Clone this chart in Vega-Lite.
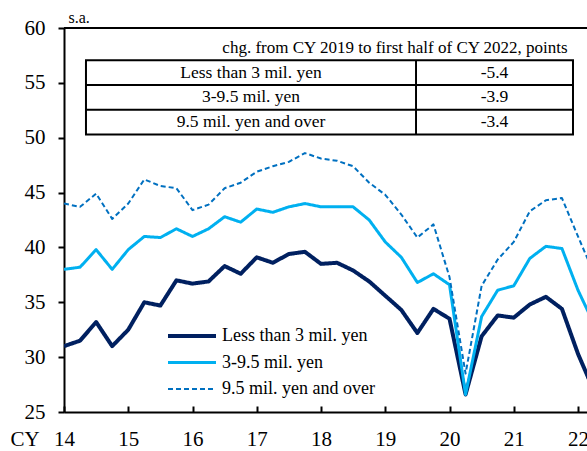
{
  "$schema": "https://vega.github.io/schema/vega-lite/v6.json",
  "width": 523,
  "height": 384,
  "autosize": {"type": "none"},
  "padding": {"left": 64, "top": 28, "right": 0, "bottom": 39},
  "background": "white",
  "config": {"view": {"stroke": null}, "font": "Liberation Serif"},
  "datasets": {
    "survey": [
      {"t": 2014.00, "s": "Less than 3 mil. yen", "v": 31.0}, {"t": 2014.00, "s": "3-9.5 mil. yen", "v": 38.0}, {"t": 2014.00, "s": "9.5 mil. yen and over", "v": 44.0},
      {"t": 2014.25, "s": "Less than 3 mil. yen", "v": 31.5}, {"t": 2014.25, "s": "3-9.5 mil. yen", "v": 38.2}, {"t": 2014.25, "s": "9.5 mil. yen and over", "v": 43.7},
      {"t": 2014.50, "s": "Less than 3 mil. yen", "v": 33.2}, {"t": 2014.50, "s": "3-9.5 mil. yen", "v": 39.8}, {"t": 2014.50, "s": "9.5 mil. yen and over", "v": 44.9},
      {"t": 2014.75, "s": "Less than 3 mil. yen", "v": 31.0}, {"t": 2014.75, "s": "3-9.5 mil. yen", "v": 38.0}, {"t": 2014.75, "s": "9.5 mil. yen and over", "v": 42.6},
      {"t": 2015.00, "s": "Less than 3 mil. yen", "v": 32.5}, {"t": 2015.00, "s": "3-9.5 mil. yen", "v": 39.8}, {"t": 2015.00, "s": "9.5 mil. yen and over", "v": 44.0},
      {"t": 2015.25, "s": "Less than 3 mil. yen", "v": 35.0}, {"t": 2015.25, "s": "3-9.5 mil. yen", "v": 41.0}, {"t": 2015.25, "s": "9.5 mil. yen and over", "v": 46.2},
      {"t": 2015.50, "s": "Less than 3 mil. yen", "v": 34.7}, {"t": 2015.50, "s": "3-9.5 mil. yen", "v": 40.9}, {"t": 2015.50, "s": "9.5 mil. yen and over", "v": 45.6},
      {"t": 2015.75, "s": "Less than 3 mil. yen", "v": 37.0}, {"t": 2015.75, "s": "3-9.5 mil. yen", "v": 41.7}, {"t": 2015.75, "s": "9.5 mil. yen and over", "v": 45.4},
      {"t": 2016.00, "s": "Less than 3 mil. yen", "v": 36.7}, {"t": 2016.00, "s": "3-9.5 mil. yen", "v": 41.0}, {"t": 2016.00, "s": "9.5 mil. yen and over", "v": 43.4},
      {"t": 2016.25, "s": "Less than 3 mil. yen", "v": 36.9}, {"t": 2016.25, "s": "3-9.5 mil. yen", "v": 41.7}, {"t": 2016.25, "s": "9.5 mil. yen and over", "v": 43.9},
      {"t": 2016.50, "s": "Less than 3 mil. yen", "v": 38.3}, {"t": 2016.50, "s": "3-9.5 mil. yen", "v": 42.8}, {"t": 2016.50, "s": "9.5 mil. yen and over", "v": 45.4},
      {"t": 2016.75, "s": "Less than 3 mil. yen", "v": 37.6}, {"t": 2016.75, "s": "3-9.5 mil. yen", "v": 42.3}, {"t": 2016.75, "s": "9.5 mil. yen and over", "v": 45.9},
      {"t": 2017.00, "s": "Less than 3 mil. yen", "v": 39.1}, {"t": 2017.00, "s": "3-9.5 mil. yen", "v": 43.5}, {"t": 2017.00, "s": "9.5 mil. yen and over", "v": 46.9},
      {"t": 2017.25, "s": "Less than 3 mil. yen", "v": 38.6}, {"t": 2017.25, "s": "3-9.5 mil. yen", "v": 43.2}, {"t": 2017.25, "s": "9.5 mil. yen and over", "v": 47.4},
      {"t": 2017.50, "s": "Less than 3 mil. yen", "v": 39.4}, {"t": 2017.50, "s": "3-9.5 mil. yen", "v": 43.7}, {"t": 2017.50, "s": "9.5 mil. yen and over", "v": 47.8},
      {"t": 2017.75, "s": "Less than 3 mil. yen", "v": 39.6}, {"t": 2017.75, "s": "3-9.5 mil. yen", "v": 44.0}, {"t": 2017.75, "s": "9.5 mil. yen and over", "v": 48.6},
      {"t": 2018.00, "s": "Less than 3 mil. yen", "v": 38.5}, {"t": 2018.00, "s": "3-9.5 mil. yen", "v": 43.7}, {"t": 2018.00, "s": "9.5 mil. yen and over", "v": 48.1},
      {"t": 2018.25, "s": "Less than 3 mil. yen", "v": 38.6}, {"t": 2018.25, "s": "3-9.5 mil. yen", "v": 43.7}, {"t": 2018.25, "s": "9.5 mil. yen and over", "v": 47.9},
      {"t": 2018.50, "s": "Less than 3 mil. yen", "v": 37.9}, {"t": 2018.50, "s": "3-9.5 mil. yen", "v": 43.7}, {"t": 2018.50, "s": "9.5 mil. yen and over", "v": 47.4},
      {"t": 2018.75, "s": "Less than 3 mil. yen", "v": 36.9}, {"t": 2018.75, "s": "3-9.5 mil. yen", "v": 42.5}, {"t": 2018.75, "s": "9.5 mil. yen and over", "v": 45.9},
      {"t": 2019.00, "s": "Less than 3 mil. yen", "v": 35.6}, {"t": 2019.00, "s": "3-9.5 mil. yen", "v": 40.5}, {"t": 2019.00, "s": "9.5 mil. yen and over", "v": 44.8},
      {"t": 2019.25, "s": "Less than 3 mil. yen", "v": 34.3}, {"t": 2019.25, "s": "3-9.5 mil. yen", "v": 39.1}, {"t": 2019.25, "s": "9.5 mil. yen and over", "v": 43.0},
      {"t": 2019.50, "s": "Less than 3 mil. yen", "v": 32.2}, {"t": 2019.50, "s": "3-9.5 mil. yen", "v": 36.8}, {"t": 2019.50, "s": "9.5 mil. yen and over", "v": 40.9},
      {"t": 2019.75, "s": "Less than 3 mil. yen", "v": 34.4}, {"t": 2019.75, "s": "3-9.5 mil. yen", "v": 37.6}, {"t": 2019.75, "s": "9.5 mil. yen and over", "v": 42.1},
      {"t": 2020.00, "s": "Less than 3 mil. yen", "v": 33.5}, {"t": 2020.00, "s": "3-9.5 mil. yen", "v": 36.6}, {"t": 2020.00, "s": "9.5 mil. yen and over", "v": 37.3},
      {"t": 2020.25, "s": "Less than 3 mil. yen", "v": 26.6}, {"t": 2020.25, "s": "3-9.5 mil. yen", "v": 26.6}, {"t": 2020.25, "s": "9.5 mil. yen and over", "v": 28.5},
      {"t": 2020.50, "s": "Less than 3 mil. yen", "v": 31.9}, {"t": 2020.50, "s": "3-9.5 mil. yen", "v": 33.7}, {"t": 2020.50, "s": "9.5 mil. yen and over", "v": 36.5},
      {"t": 2020.75, "s": "Less than 3 mil. yen", "v": 33.8}, {"t": 2020.75, "s": "3-9.5 mil. yen", "v": 36.1}, {"t": 2020.75, "s": "9.5 mil. yen and over", "v": 38.9},
      {"t": 2021.00, "s": "Less than 3 mil. yen", "v": 33.6}, {"t": 2021.00, "s": "3-9.5 mil. yen", "v": 36.5}, {"t": 2021.00, "s": "9.5 mil. yen and over", "v": 40.5},
      {"t": 2021.25, "s": "Less than 3 mil. yen", "v": 34.8}, {"t": 2021.25, "s": "3-9.5 mil. yen", "v": 39.0}, {"t": 2021.25, "s": "9.5 mil. yen and over", "v": 43.3},
      {"t": 2021.50, "s": "Less than 3 mil. yen", "v": 35.5}, {"t": 2021.50, "s": "3-9.5 mil. yen", "v": 40.1}, {"t": 2021.50, "s": "9.5 mil. yen and over", "v": 44.3},
      {"t": 2021.75, "s": "Less than 3 mil. yen", "v": 34.4}, {"t": 2021.75, "s": "3-9.5 mil. yen", "v": 39.9}, {"t": 2021.75, "s": "9.5 mil. yen and over", "v": 44.5},
      {"t": 2022.00, "s": "Less than 3 mil. yen", "v": 30.3}, {"t": 2022.00, "s": "3-9.5 mil. yen", "v": 36.1}, {"t": 2022.00, "s": "9.5 mil. yen and over", "v": 41.0},
      {"t": 2022.25, "s": "Less than 3 mil. yen", "v": 26.9}, {"t": 2022.25, "s": "3-9.5 mil. yen", "v": 33.0}, {"t": 2022.25, "s": "9.5 mil. yen and over", "v": 37.6}
    ],
    "table": [
      {"row": 1, "group": "Less than 3 mil. yen", "change": "-5.4"},
      {"row": 2, "group": "3-9.5 mil. yen", "change": "-3.9"},
      {"row": 3, "group": "9.5 mil. yen and over", "change": "-3.4"}
    ],
    "header": [
      {"row": 0, "text": "chg. from CY 2019 to first half of CY 2022, points"}
    ]
  },
  "layer": [
    {
      "layer": [
        {
          "data": {"name": "survey"},
          "mark": {"type": "line", "clip": true, "strokeJoin": "round"},
          "encoding": {
            "x": {
              "field": "t", "type": "quantitative",
              "scale": {"domain": [2014, 2022.14], "nice": false, "zero": false},
              "axis": {
                "values": [2014, 2015, 2016, 2017, 2018, 2019, 2020, 2021, 2022],
                "labelExpr": "toString(datum.value - 2000)",
                "title": "CY", "titleX": -54, "titleY": 27, "titleAlign": "left", "titleBaseline": "middle",
                "titleFont": "Liberation Serif", "titleFontSize": 21, "titleFontWeight": "normal", "titleColor": "black",
                "labelFont": "Liberation Serif", "labelFontSize": 21, "labelColor": "black",
                "labelPadding": 22, "labelFlush": false, "labelOverlap": false, "labelBound": false,
                "tickSize": -6, "tickColor": "black", "tickWidth": 2,
                "domainColor": "black", "domainWidth": 2, "grid": false
              }
            },
            "y": {
              "field": "v", "type": "quantitative",
              "scale": {"domain": [25, 60], "nice": false, "zero": false},
              "axis": {
                "values": [25, 30, 35, 40, 45, 50, 55, 60],
                "title": "s.a.", "titleAngle": 0, "titleAlign": "left", "titleBaseline": "middle",
                "titleX": 4, "titleY": -11,
                "titleFont": "Liberation Serif", "titleFontSize": 16, "titleFontWeight": "normal", "titleColor": "black",
                "labelFont": "Liberation Serif", "labelFontSize": 21, "labelColor": "black", "labelPadding": 13,
                "tickSize": 6, "tickColor": "black", "tickWidth": 2,
                "domainColor": "black", "domainWidth": 2, "grid": false
              }
            },
            "color": {
              "field": "s", "type": "ordinal",
              "scale": {"domain": ["Less than 3 mil. yen", "3-9.5 mil. yen", "9.5 mil. yen and over"], "range": ["#002060", "#00B0F0", "#0070C0"]},
              "legend": {"orient": "none", "legendX": 118, "legendY": 298, "title": null, "symbolType": "M-3,0H3", "symbolSize": 256, "labelFont": "Liberation Serif", "labelFontSize": 18, "labelColor": "black", "labelOffset": 20, "rowPadding": 8, "labelLimit": 400, "padding": 0}
            },
            "strokeDash": {
              "field": "s", "type": "ordinal",
              "scale": {"domain": ["Less than 3 mil. yen", "3-9.5 mil. yen", "9.5 mil. yen and over"], "range": [[1, 0], [1, 0], [5, 3]]},
              "legend": {"orient": "none", "legendX": 118, "legendY": 298, "title": null, "symbolType": "M-3,0H3", "symbolSize": 256, "labelFont": "Liberation Serif", "labelFontSize": 18, "labelColor": "black", "labelOffset": 20, "rowPadding": 8, "labelLimit": 400, "padding": 0}
            },
            "strokeWidth": {
              "field": "s", "type": "ordinal",
              "scale": {"domain": ["Less than 3 mil. yen", "3-9.5 mil. yen", "9.5 mil. yen and over"], "range": [4, 2, 2]},
              "legend": {"orient": "none", "legendX": 118, "legendY": 298, "title": null, "symbolType": "M-3,0H3", "symbolSize": 256, "labelFont": "Liberation Serif", "labelFontSize": 18, "labelColor": "black", "labelOffset": 20, "rowPadding": 8, "labelLimit": 400, "padding": 0}
            }
          }
        },
        {
          "data": {"values": [{}]},
          "mark": {"type": "rule", "color": "black", "strokeWidth": 2},
          "encoding": {"y": {"datum": 60, "type": "quantitative"}}
        }
      ]
    },
    {
      "layer": [
        {
          "data": {"name": "table"},
          "mark": {"type": "text", "font": "Liberation Serif", "fontSize": 17.5, "color": "black", "align": "center", "baseline": "middle"},
          "encoding": {
            "x": {"datum": 2016.911, "type": "quantitative", "scale": {"domain": [2014, 2022.14], "nice": false, "zero": false}, "axis": null},
            "y": {"field": "row", "type": "quantitative", "scale": {"domain": [-0.798, 14.717], "reverse": true, "nice": false, "zero": false}, "axis": null},
            "text": {"field": "group"}
          }
        },
        {
          "data": {"name": "table"},
          "mark": {"type": "text", "font": "Liberation Serif", "fontSize": 17.5, "color": "black", "align": "center", "baseline": "middle"},
          "encoding": {
            "x": {"datum": 2020.70, "type": "quantitative", "scale": {"domain": [2014, 2022.14], "nice": false, "zero": false}, "axis": null},
            "y": {"field": "row", "type": "quantitative", "scale": {"domain": [-0.798, 14.717], "reverse": true, "nice": false, "zero": false}, "axis": null},
            "text": {"field": "change"}
          }
        },
        {
          "data": {"name": "header"},
          "mark": {"type": "text", "font": "Liberation Serif", "fontSize": 17, "color": "black", "align": "center", "baseline": "middle"},
          "encoding": {
            "x": {"datum": 2019.152, "type": "quantitative", "scale": {"domain": [2014, 2022.14], "nice": false, "zero": false}, "axis": null},
            "y": {"field": "row", "type": "quantitative", "scale": {"domain": [-0.798, 14.717], "reverse": true, "nice": false, "zero": false}, "axis": null},
            "text": {"field": "text"}
          }
        },
        {
          "data": {"values": [{}]},
          "mark": {"type": "rect", "fill": "transparent", "stroke": "black", "strokeWidth": 2},
          "encoding": {
            "x": {"datum": 2014.342, "type": "quantitative", "scale": {"domain": [2014, 2022.14], "nice": false, "zero": false}, "axis": null},
            "x2": {"datum": 2021.922},
            "y": {"datum": 0.5, "type": "quantitative", "scale": {"domain": [-0.798, 14.717], "reverse": true, "nice": false, "zero": false}, "axis": null},
            "y2": {"datum": 3.5}
          }
        },
        {
          "data": {"values": [{}]},
          "mark": {"type": "rule", "color": "black", "strokeWidth": 2},
          "encoding": {
            "x": {"datum": 2014.342, "type": "quantitative", "scale": {"domain": [2014, 2022.14], "nice": false, "zero": false}, "axis": null},
            "x2": {"datum": 2021.922},
            "y": {"datum": 1.5, "type": "quantitative", "scale": {"domain": [-0.798, 14.717], "reverse": true, "nice": false, "zero": false}, "axis": null}
          }
        },
        {
          "data": {"values": [{}]},
          "mark": {"type": "rule", "color": "black", "strokeWidth": 2},
          "encoding": {
            "x": {"datum": 2014.342, "type": "quantitative", "scale": {"domain": [2014, 2022.14], "nice": false, "zero": false}, "axis": null},
            "x2": {"datum": 2021.922},
            "y": {"datum": 2.5, "type": "quantitative", "scale": {"domain": [-0.798, 14.717], "reverse": true, "nice": false, "zero": false}, "axis": null}
          }
        },
        {
          "data": {"values": [{}]},
          "mark": {"type": "rule", "color": "black", "strokeWidth": 2},
          "encoding": {
            "x": {"datum": 2019.479, "type": "quantitative", "scale": {"domain": [2014, 2022.14], "nice": false, "zero": false}, "axis": null},
            "y": {"datum": 0.5, "type": "quantitative", "scale": {"domain": [-0.798, 14.717], "reverse": true, "nice": false, "zero": false}, "axis": null},
            "y2": {"datum": 3.5}
          }
        }
      ]
    }
  ],
  "resolve": {"scale": {"x": "independent", "y": "independent"}}
}
